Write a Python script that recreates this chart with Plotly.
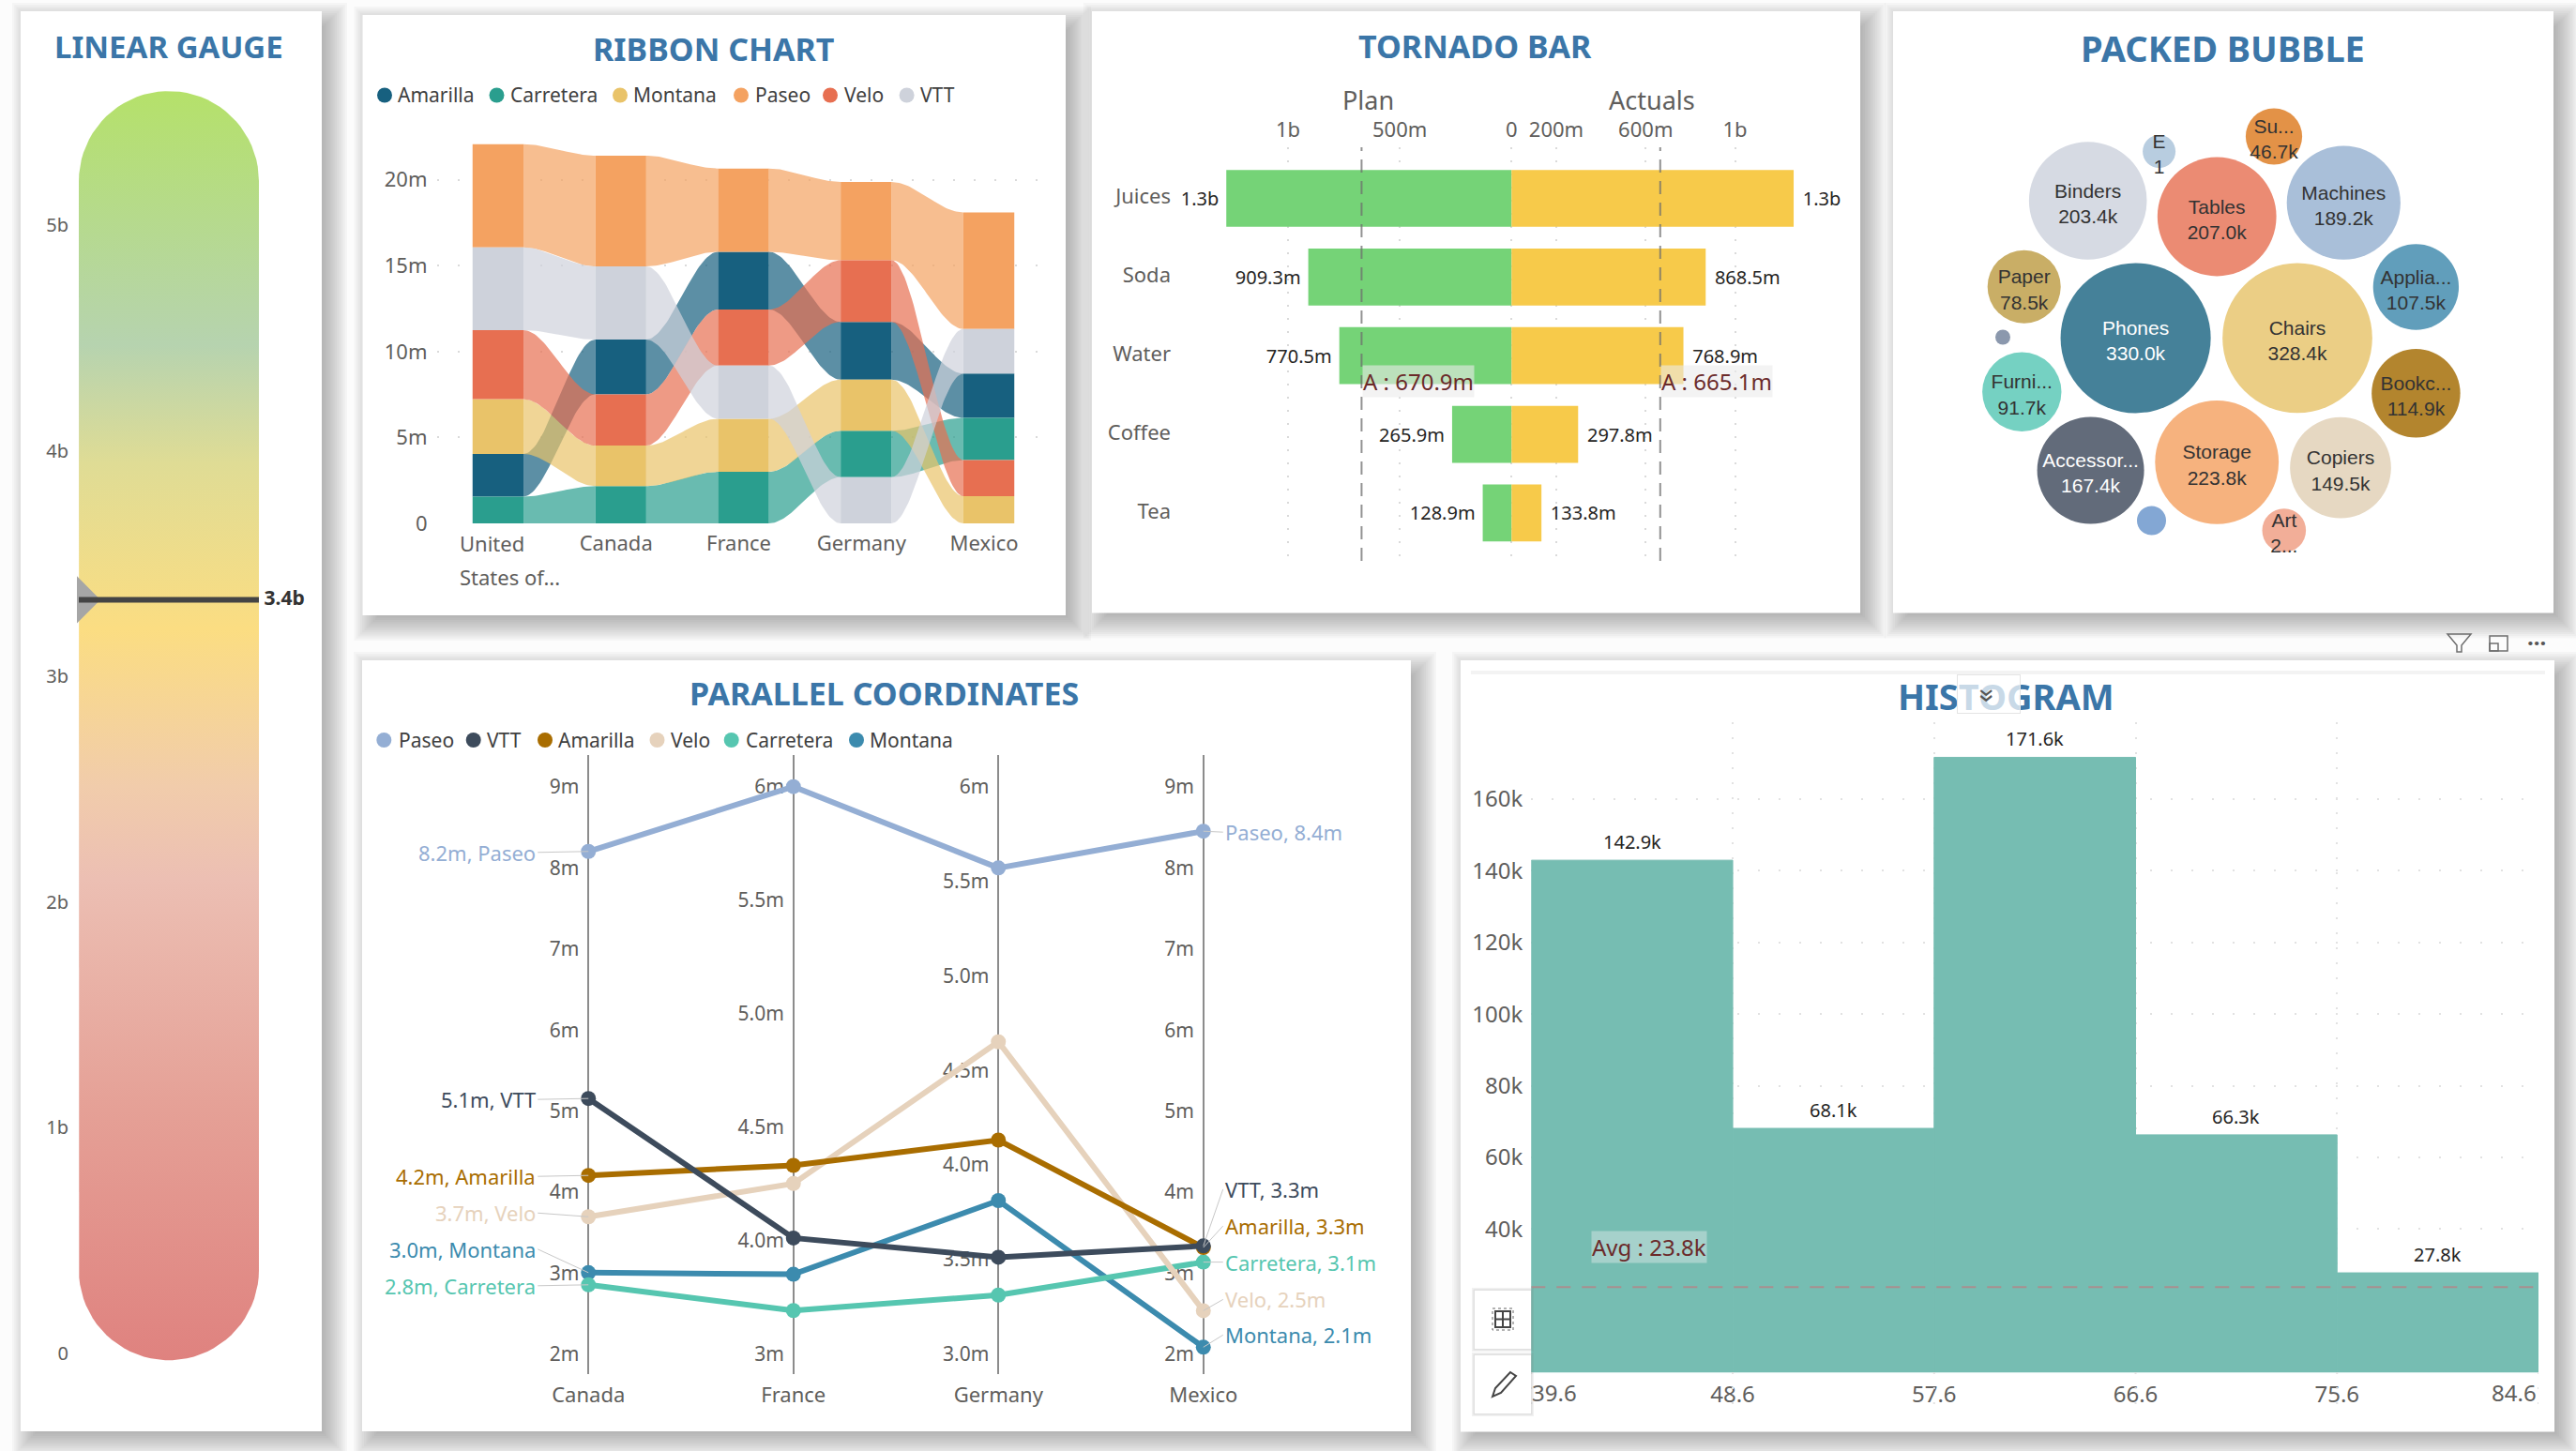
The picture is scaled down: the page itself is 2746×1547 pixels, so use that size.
import numpy as np
import plotly.graph_objects as go

W, H = 2746, 1547
FONT = "Noto Sans"
TITLE = "#3B76A8"
GREY = "#605E5C"
DARK = "#252423"

# ---------------- data ----------------
gauge_ticks = [0, 1, 2, 3, 4, 5]
gauge_tick_text = ["0", "1b", "2b", "3b", "4b", "5b"]
gauge_value = 3.34
gauge_label = "3.4b"

ribbon_countries = ["United States of...", "Canada", "France", "Germany", "Mexico"]
ribbon_series = ["Amarilla", "Carretera", "Montana", "Paseo", "Velo", "VTT"]
amarilla_sales = [2.48, 3.19, 3.36, 3.36, 2.58]
carretera_sales = [1.56, 2.17, 3.00, 2.70, 2.46]
montana_sales = [3.19, 2.36, 3.09, 2.98, 1.58]
paseo_sales = [6.00, 6.45, 4.85, 4.56, 6.78]
velo_sales = [4.02, 2.98, 3.26, 3.59, 2.10]
vtt_sales = [4.82, 4.26, 3.10, 2.69, 2.60]
ribbon_ticks = [0, 5, 10, 15, 20]
ribbon_tick_text = ["0", "5m", "10m", "15m", "20m"]

tornado_products = ["Juices", "Soda", "Water", "Coffee", "Tea"]
tornado_plan = [1276, 909.3, 770.5, 265.9, 128.9]
tornado_actual = [1262, 868.5, 768.9, 297.8, 133.8]
tornado_plan_text = ["1.3b", "909.3m", "770.5m", "265.9m", "128.9m"]
tornado_actual_text = ["1.3b", "868.5m", "768.9m", "297.8m", "133.8m"]
tornado_plan_avg = 670.9
tornado_actual_avg = 665.1
tornado_ticks = [-1000, -500, 0, 200, 600, 1000]
tornado_tick_text = ["1b", "500m", "0", "200m", "600m", "1b"]

bubble_names = ["Phones", "Chairs", "Storage", "Tables", "Binders", "Machines", "Accessories",
                "Copiers", "Bookcases", "Appliances", "Furnishings", "Paper", "Supplies",
                "Art", "Envelopes", "Labels", "Fasteners"]
bubble_values = [330.0, 328.4, 223.8, 207.0, 203.4, 189.2, 167.4, 149.5, 114.9, 107.5, 91.7,
                 78.5, 46.7, 28.0, 15.8, 12.4, 3.3]
bubble_text = ["Phones<br>330.0k", "Chairs<br>328.4k", "Storage<br>223.8k", "Tables<br>207.0k",
               "Binders<br>203.4k", "Machines<br>189.2k", "Accessor...<br>167.4k", "Copiers<br>149.5k",
               "Bookc...<br>114.9k", "Applia...<br>107.5k", "Furni...<br>91.7k", "Paper<br>78.5k",
               "Su...<br>46.7k", "Art<br>2...", "E<br>1", "", ""]
bubble_layout_x = [2276.6, 2449, 2363.2, 2363.2, 2225.7, 2498.3, 2228.6, 2495, 2575.4, 2575.4,
                   2155.3, 2157.7, 2424, 2434.8, 2301.6, 2293.5, 2135]
bubble_layout_y = [360.4, 360.4, 492.8, 231, 214, 216.2, 501.5, 498.7, 419.3, 306, 417.8, 305.7,
                   145.5, 565.5, 161.5, 555, 359.5]
bubble_colors = ["#458199", "#EBCE85", "#F6B27E", "#EB8B73", "#D6DAE3", "#A9BFD9", "#626B7A", "#E6D8C2",
                 "#B3852E", "#619EBB", "#75D1C2", "#C9AE66", "#E39247", "#F2AE98", "#B8CDE0", "#83A7D4",
                 "#8B98AD"]
bubble_text_colors = ["#FFFFFF", "#333333", "#333333", "#333333", "#333333", "#333333", "#FFFFFF"] + ["#333333"] * 10

par_countries = ["Canada", "France", "Germany", "Mexico"]
par_series = ["Paseo", "VTT", "Amarilla", "Velo", "Carretera", "Montana"]
par_paseo = [8.2, 6.0, 5.57, 8.45]
par_vtt = [5.15, 4.01, 3.51, 3.33]
par_amarilla = [4.2, 4.33, 4.13, 3.31]
par_velo = [3.69, 4.25, 4.65, 2.53]
par_carretera = [2.85, 3.69, 3.31, 3.13]
par_montana = [3.0, 3.85, 3.81, 2.08]
par_left_labels = ["8.2m, Paseo", "5.1m, VTT", "4.2m, Amarilla", "3.7m, Velo", "2.8m, Carretera", "3.0m, Montana"]
par_right_labels = ["Paseo, 8.4m", "VTT, 3.3m", "Amarilla, 3.3m", "Velo, 2.5m", "Carretera, 3.1m", "Montana, 2.1m"]
par_axis_low = [2, 3.5, 3, 2]
par_axis_high = [9, 6, 6, 9]
par_tick_vals = [[2, 3, 4, 5, 6, 7, 8, 9],
                 [3.5, 4, 4.5, 5, 5.5, 6],
                 [3, 3.5, 4, 4.5, 5, 5.5, 6],
                 [2, 3, 4, 5, 6, 7, 8, 9]]
par_tick_text = [["2m", "3m", "4m", "5m", "6m", "7m", "8m", "9m"],
                 ["3m", "4.0m", "4.5m", "5.0m", "5.5m", "6m"],
                 ["3.0m", "3.5m", "4.0m", "4.5m", "5.0m", "5.5m", "6m"],
                 ["2m", "3m", "4m", "5m", "6m", "7m", "8m", "9m"]]

hist_edges = [39.6, 48.6, 57.6, 66.6, 75.6, 84.6]
hist_values = [142.9, 68.1, 171.6, 66.3, 27.8]
hist_text = ["142.9k", "68.1k", "171.6k", "66.3k", "27.8k"]
hist_avg = 23.8
hist_ticks = [40, 60, 80, 100, 120, 140, 160]
hist_tick_text = ["40k", "60k", "80k", "100k", "120k", "140k", "160k"]

# ---------------- styles ----------------
ribbon_colors = dict(Amarilla="#17607F", Carretera="#2A9E8E", Montana="#E9C369",
                     Paseo="#F4A261", Velo="#E76F51", VTT="#CED2DB")
par_colors = dict(Paseo="#94AED4", VTT="#3D4B5C", Amarilla="#A96D00",
                  Velo="#E6D2BC", Carretera="#56C6B0", Montana="#3C8BAE")
panels = [(22, 12, 343, 1526), (386.5, 16, 1136, 656), (1164, 12, 1983, 653.5),
          (2018, 12, 2722, 653.5), (386, 704, 1504, 1526), (1557, 704, 2723, 1526.6)]


def fx(x):
    return x / W


def fy(y):
    return 1 - y / H


def rgba(hex_color, a):
    c = hex_color.lstrip("#")
    return f"rgba({int(c[:2],16)},{int(c[2:4],16)},{int(c[4:],16)},{a})"


fig = go.Figure()
shapes, notes = [], []


def note(text, x, y, size=22, color=GREY, anchor="center", bold=False, family=FONT, **kw):
    notes.append(dict(text=f"<b>{text}</b>" if bold else text, x=fx(x), y=fy(y), xref="paper", yref="paper",
                      showarrow=False, xanchor=anchor, yanchor="middle",
                      font=dict(family=family, size=size, color=color), **kw))


def rect(x0, y0, x1, y1, **kw):
    shapes.append(dict(type="rect", xref="paper", yref="paper", x0=fx(x0), x1=fx(x1), y0=fy(y0), y1=fy(y1), **kw))


def path(points, close=False, **kw):
    d = " ".join(("M" if i == 0 else "L") + f"{fx(x):.6f},{fy(y):.6f}" for i, (x, y) in enumerate(points))
    shapes.append(dict(type="path", xref="paper", yref="paper", path=d + (" Z" if close else ""), **kw))


# panels with soft shadows
for p in panels:
    for k in range(12):
        g = 18 - k * 2.2
        rect(p[0] + 9 - g, p[1] + 9 - g, p[2] + 9 + g, p[3] + 9 + g,
             fillcolor="rgba(90,90,90,0.042)", line=dict(width=0), layer="below")
for p in panels:
    rect(*p, fillcolor="#FFFFFF", line=dict(width=0), layer="below")

# titles
for t, x, y, sz in [("LINEAR GAUGE", 180, 50, 33), ("RIBBON CHART", 760, 52, 34), ("TORNADO BAR", 1572, 49, 34),
                    ("PACKED BUBBLE", 2369, 51, 38), ("PARALLEL COORDINATES", 943, 739, 34),
                    ("HISTOGRAM", 2138, 741.5, 38)]:
    note(t, x, y, size=sz, color=TITLE, bold=True)

axis_base = dict(showline=False, zeroline=False, ticks="", showgrid=False, automargin=False,
                 tickfont=dict(family=FONT, size=22, color=GREY))
layout_axes = {}


def axes(n, x_px, y_px, xa=None, ya=None):
    sx = "" if n == 1 else str(n)
    xd = dict(axis_base, domain=[fx(x_px[0]), fx(x_px[1])], anchor=f"y{sx}", showticklabels=False)
    yd = dict(axis_base, domain=[fy(y_px[1]), fy(y_px[0])], anchor=f"x{sx}", showticklabels=False)
    xd.update(xa or {})
    yd.update(ya or {})
    layout_axes[f"xaxis{sx}"] = xd
    layout_axes[f"yaxis{sx}"] = yd


# ---------------- linear gauge ----------------
G_ZERO, G_SCALE = 1443, 240.6
g_left, g_right, g_low, g_high = 84, 276, -0.03, 5.594
g_r = (g_right - g_left) / 2
g_ry = g_r / G_SCALE
a = np.linspace(0, np.pi, 40)
g_cx = (g_left + g_right) / 2
gx = np.r_[g_cx + g_r * np.cos(a), g_cx - g_r * np.cos(a)]
gy = np.r_[g_high - g_ry + g_ry * np.sin(a), g_low + g_ry - g_ry * np.sin(a)]
fig.add_trace(go.Scatter(x=gx, y=gy, mode="lines", fill="toself", line=dict(width=0), name="Gauge",
                         fillgradient=dict(type="vertical", colorscale=[
                             [0, "#DF827F"], [0.197, "#E5A096"], [0.379, "#ECBFB3"], [0.452, "#F1CCAB"],
                             [0.576, "#FBDD82"], [0.707, "#DFDC95"], [0.80, "#B6D3AF"], [1, "#B5E16A"]]),
                         xaxis="x", yaxis="y", hoverinfo="skip"))
fig.add_trace(go.Scatter(x=[82, 107, 82], y=[gauge_value + 0.104, gauge_value, gauge_value - 0.104], mode="lines",
                         fill="toself", fillcolor="#A6A6A6", line=dict(width=0), name="Target", xaxis="x", yaxis="y",
                         hoverinfo="skip"))
fig.add_trace(go.Scatter(x=[g_left, g_right], y=[gauge_value, gauge_value], mode="lines+text",
                         text=["", " " + f"<b>{gauge_label}</b>"], textposition="middle right",
                         textfont=dict(family=FONT, size=21, color="#333333"),
                         line=dict(color="#444444", width=6), name="Value", xaxis="x", yaxis="y", cliponaxis=False))
axes(1, (80, 343), (60, 1500),
     dict(range=[80, 343]),
     dict(range=[(G_ZERO - 1500) / G_SCALE, (G_ZERO - 60) / G_SCALE], showticklabels=True, tickvals=gauge_ticks,
          ticktext=gauge_tick_text, tickfont=dict(family=FONT, size=20, color=GREY), ticklabelstandoff=6))

# ---------------- ribbon chart ----------------
ribbon_values = dict(Amarilla=amarilla_sales, Carretera=carretera_sales, Montana=montana_sales,
                     Paseo=paseo_sales, Velo=velo_sales, VTT=vtt_sales)
n_c = len(ribbon_countries)
lows = {s: [0.0] * n_c for s in ribbon_series}
for c in range(n_c):
    level = 0.0
    for s in sorted(ribbon_series, key=lambda s: ribbon_values[s][c]):
        lows[s][c] = level
        level += ribbon_values[s][c]
half = 0.2075
t = np.linspace(0, 1, 40)
ease = 3 * t ** 2 - 2 * t ** 3
for s in ribbon_series:
    v, lo = ribbon_values[s], lows[s]
    for c in range(n_c - 1):
        x_a, x_b = c + half, c + 1 - half
        xs = x_a + (x_b - x_a) * t
        bot = lo[c] + (lo[c + 1] - lo[c]) * ease
        top = lo[c] + v[c] + (lo[c + 1] + v[c + 1] - lo[c] - v[c]) * ease
        fig.add_trace(go.Scatter(x=np.r_[xs, xs[::-1]], y=np.r_[bot, top[::-1]], mode="lines", fill="toself",
                                 fillcolor=rgba(ribbon_colors[s], 0.7), line=dict(width=0), name=s,
                                 xaxis="x2", yaxis="y2", hoverinfo="skip"))
for s in ribbon_series:
    fig.add_trace(go.Bar(x=list(range(n_c)), y=ribbon_values[s], base=lows[s], width=0.415, name=s,
                         marker=dict(color=ribbon_colors[s], line=dict(width=0)), xaxis="x2", yaxis="y2"))
axes(2, (465.5, 1119.5), (150, 558),
     dict(range=[-0.5, 4.5], showticklabels=True, tickvals=list(range(1, n_c)), ticktext=ribbon_countries[1:],
          ticklabelshift=-5, ticklabelstandoff=6),
     dict(range=[0, 22.28], showticklabels=True, tickvals=ribbon_ticks, ticktext=ribbon_tick_text, showgrid=True,
          gridcolor="#DADADA", griddash="2px,20px", gridwidth=2, ticklabelstandoff=9))
note("United", 488, 579, anchor="left")
note("States of...", 488, 615, anchor="left")
for s, dx, tx in zip(ribbon_series, [410, 529.5, 661, 790, 885, 966.6], [422.4, 542, 673, 803, 898, 979]):
    shapes.append(dict(type="circle", xref="paper", yref="paper", x0=fx(dx - 8), x1=fx(dx + 8), y0=fy(101.5 + 8),
                       y1=fy(101.5 - 8), fillcolor=ribbon_colors[s], line=dict(width=0)))
    note(s, tx, 101.5, anchor="left", size=21, color="#404040")

# ---------------- tornado ----------------
T_Z, T_S = 1611.3, 0.2383
t_left, t_right = 1255, 1950
prod_y = list(range(len(tornado_products)))
fig.add_trace(go.Bar(y=prod_y, x=[-v for v in tornado_plan], orientation="h", width=0.7245, name="Plan",
                     marker=dict(color="#75D377", line=dict(width=0)), text=[v + "\u2005" for v in tornado_plan_text],
                     textposition="outside", cliponaxis=False, textfont=dict(family=FONT, size=20, color=DARK),
                     xaxis="x3", yaxis="y3"))
fig.add_trace(go.Bar(y=prod_y, x=tornado_actual, orientation="h", width=0.7245, name="Actuals",
                     marker=dict(color="#F7CA4A", line=dict(width=0)), text=["\u2004" + v for v in tornado_actual_text],
                     textposition="outside", cliponaxis=False, textfont=dict(family=FONT, size=20, color=DARK),
                     xaxis="x3", yaxis="y3"))
for val, lab in [(-tornado_plan_avg, "Plan avg"), (tornado_actual_avg, "Actual avg")]:
    fig.add_trace(go.Scatter(x=[val, val], y=[4.61, -0.65], mode="lines", name=lab, xaxis="x3", yaxis="y3",
                             line=dict(color="rgba(110,110,110,0.75)", width=2, dash="14px,9px"), hoverinfo="skip"))
axes(3, (t_left, t_right), (157, 598),
     dict(range=[(t_left - T_Z) / T_S, (t_right - T_Z) / T_S], side="top", showticklabels=True, tickvals=tornado_ticks,
          ticktext=tornado_tick_text, showgrid=True, gridcolor="#DADADA", griddash="2px,12px", gridwidth=2,
          ticklabelstandoff=6),
     dict(range=[4.61, -0.65], showticklabels=True, tickvals=prod_y, ticktext=tornado_products,
          tickfont=dict(family=FONT, size=22, color=GREY), ticklabelstandoff=6, ticklabelshift=2))
note("Plan", 1459, 107, size=27)
note("Actuals", 1761, 107, size=27)
for txt, xp in [(f"A : {tornado_plan_avg}m", 1452), (f"A : {tornado_actual_avg}m", 1770)]:
    note(txt, xp, 406.5, size=24, color="#6B2A2A", anchor="left", bgcolor="rgba(235,235,235,0.6)", borderpad=0)

# ---------------- packed bubble ----------------
fig.add_trace(go.Scatter(x=bubble_layout_x, y=bubble_layout_y, mode="markers", customdata=bubble_names, name="Sales",
                         marker=dict(size=[8.81 * np.sqrt(v) for v in bubble_values], color=bubble_colors,
                                     sizemode="diameter", line=dict(width=0), opacity=1),
                         cliponaxis=False, xaxis="x4", yaxis="y4"))
fig.add_trace(go.Scatter(x=bubble_layout_x, y=[yy + 5 for yy in bubble_layout_y], mode="text", text=bubble_text,
                         name="Labels", textposition="middle center",
                         textfont=dict(family="Liberation Sans", size=21, color=bubble_text_colors),
                         cliponaxis=False, xaxis="x4", yaxis="y4", hoverinfo="skip"))
axes(4, (2018, 2722), (12, 653.5), dict(range=[2018, 2722]), dict(range=[653.5, 12]))

# ---------------- parallel coordinates ----------------
par_values = dict(Paseo=par_paseo, VTT=par_vtt, Amarilla=par_amarilla, Velo=par_velo,
                  Carretera=par_carretera, Montana=par_montana)


def par_norm(v, i):
    return 2 + 7 * (v - par_axis_low[i]) / (par_axis_high[i] - par_axis_low[i])


PAR_PX = 86.36
for i in range(4):
    fig.add_trace(go.Scatter(x=[i - 0.045] * len(par_tick_vals[i]),
                             y=[par_norm(v, i) - 2.5 / PAR_PX for v in par_tick_vals[i]],
                             mode="text", text=par_tick_text[i], textposition="middle left", name=par_countries[i],
                             textfont=dict(family=FONT, size=21, color=GREY), xaxis="x5", yaxis="y5", cliponaxis=False,
                             hoverinfo="skip"))
for s in reversed(par_series):
    fig.add_trace(go.Scatter(x=list(range(4)), y=[par_norm(v, i) for i, v in enumerate(par_values[s])],
                             mode="lines+markers", name=s, line=dict(color=par_colors[s], width=6),
                             marker=dict(color=par_colors[s], size=16), xaxis="x5", yaxis="y5", cliponaxis=False))
par_low, par_high = 2 - (1464.5 - 1443.2) / PAR_PX, 9 + (838.7 - 804.8) / PAR_PX
axes(5, (518, 1392), (804.8, 1464.5),
     dict(range=[-0.5, 3.5], showticklabels=True, tickvals=list(range(4)), ticktext=par_countries, showgrid=True,
          gridcolor="#8C8C8C", gridwidth=2, ticklabelstandoff=7),
     dict(range=[par_low, par_high]))
left_shift = [1, 1, 1, -4, 1, -25]
right_shift = [1, -60.5, -23, -12, 0, -13]
for k, s in enumerate(par_series):
    for idx, lab, ax, ay, anc in [(0, par_left_labels[k], -54, left_shift[k], "right"),
                                  (3, par_right_labels[k], 21, right_shift[k], "left")]:
        color = par_colors[s]
        notes.append(dict(x=idx, y=par_norm(par_values[s][idx], idx), xref="x5", yref="y5", text=lab, showarrow=True,
                          arrowhead=0, arrowwidth=1, arrowcolor="#C8C8C8", ax=ax, ay=ay, xanchor=anc, yanchor="middle",
                          standoff=0, startstandoff=0, font=dict(family=FONT, size=22, color=color)))
for s, dx, tx in zip(par_series, [409.3, 504.7, 581, 700.5, 779.7, 913], [422.5, 517, 593.4, 713, 793, 925]):
    shapes.append(dict(type="circle", xref="paper", yref="paper", x0=fx(dx - 8), x1=fx(dx + 8), y0=fy(789 + 8),
                       y1=fy(789 - 8), fillcolor=par_colors[s], line=dict(width=0)))
    note(s, tx, 789, anchor="left", size=21, color="#404040")

# ---------------- histogram ----------------
hist_centers = [(a_ + b_) / 2 for a_, b_ in zip(hist_edges[:-1], hist_edges[1:])]
hist_widths = [b_ - a_ for a_, b_ in zip(hist_edges[:-1], hist_edges[1:])]
fig.add_trace(go.Bar(x=hist_centers, y=hist_values, width=hist_widths, name="Sales",
                     marker=dict(color="#76BDB2", line=dict(color="#76BDB2", width=1)), xaxis="x6", yaxis="y6"))
fig.add_trace(go.Scatter(x=[hist_edges[0], hist_edges[-1]], y=[hist_avg, hist_avg], mode="lines", name="Avg",
                         line=dict(color="#A98E8E", width=2, dash="15px,12px"), xaxis="x6", yaxis="y6",
                         hoverinfo="skip"))
for cx_, val_, txt_ in zip(hist_centers, hist_values, hist_text):
    notes.append(dict(x=cx_, y=val_, xref="x6", yref="y6", text=txt_, showarrow=False, yanchor="bottom", yshift=4,
                      font=dict(family=FONT, size=20, color=DARK)))
axes(6, (1632.3, 2706), (770, 1463.3),
     dict(range=[hist_edges[0], hist_edges[-1]], showticklabels=True, tickvals=hist_edges,
          ticktext=[""] + [str(e) for e in hist_edges[1:-1]] + [""], showgrid=True, gridcolor="#E2E2E2",
          griddash="2px,14px", gridwidth=2, tickfont=dict(family=FONT, size=24, color=GREY), ticklabelstandoff=7),
     dict(range=[0, 693.3 / 3.822], showticklabels=True, tickvals=hist_ticks, ticktext=hist_tick_text, showgrid=True,
          gridcolor="#E2E2E2", griddash="2px,20px", gridwidth=2, tickfont=dict(family=FONT, size=24, color=GREY),
          ticklabelstandoff=8))
for e in hist_edges:
    shapes.append(dict(type="line", xref="x6", yref="paper", x0=e, x1=e, y0=fy(1463), y1=fy(1503),
                       line=dict(color="#E2E2E2", width=2, dash="2px,14px")))
note(f"{hist_edges[0]}", 1631, 1484, size=24, anchor="left")
note(f"{hist_edges[-1]}", 2706, 1484, size=24, anchor="right")
note(f"Avg : {hist_avg}k", 1696, 1329, size=24, color="#6B2A2A", anchor="left",
     bgcolor="rgba(240,240,240,0.4)", borderpad=0)

# chrome: top bar, visual header, side buttons
rect(1568, 715, 2713, 719, fillcolor="#F3F3F3", line=dict(width=0))
notes.append(dict(text=" ", x=fx(2119.5), y=fy(739.5), xref="paper", yref="paper", showarrow=False, width=66, height=40,
                  xanchor="center", yanchor="middle",
                  bgcolor="rgba(255,255,255,0.72)", bordercolor="#E4E4E4", borderwidth=1, borderpad=0))
notes.append(dict(text="\u00BB", x=fx(2121), y=fy(741), xref="paper", yref="paper", showarrow=False, textangle=90,
                  xanchor="center", yanchor="middle", font=dict(family=FONT, size=30, color="#555555")))
for y0, y1 in [(1376, 1438), (1445, 1507)]:
    for g, col in [(3, "rgba(120,120,120,0.10)"), (1.5, "rgba(120,120,120,0.14)")]:
        shapes.append(dict(type="rect", xref="paper", yref="paper", x0=fx(1572 - g), x1=fx(1632 + g), y0=fy(y0 - g),
                           y1=fy(y1 + g), fillcolor=col, line=dict(width=0)))
    rect(1572, y0, 1632, y1, fillcolor="#FFFFFF", line=dict(width=0))
rect(1591, 1395, 1613, 1418, fillcolor="rgba(0,0,0,0)", line=dict(color="#666666", width=1, dash="dot"))
rect(1594, 1398, 1610, 1415, fillcolor="rgba(0,0,0,0)", line=dict(color="#444444", width=2))
path([(1602, 1398), (1602, 1415)], line=dict(color="#444444", width=2))
path([(1594, 1406.5), (1610, 1406.5)], line=dict(color="#444444", width=2))
path([(1591, 1489), (1594, 1480), (1610, 1463), (1616, 1467), (1600, 1485)], close=True,
     fillcolor="rgba(0,0,0,0)", line=dict(color="#444444", width=2))
path([(2609, 676), (2634, 676), (2624, 688), (2624, 695), (2619, 695), (2619, 688)], close=True,
     fillcolor="rgba(0,0,0,0)", line=dict(color="#6E6E6E", width=1.5))
rect(2654, 678, 2673, 694, fillcolor="rgba(0,0,0,0)", line=dict(color="#6E6E6E", width=1.5))
rect(2654, 686, 2663, 694, fillcolor="rgba(0,0,0,0)", line=dict(color="#6E6E6E", width=1.5))
note("\u00B7\u00B7\u00B7", 2704, 684, size=24, color="#555555", bold=True)

fig.update_layout(width=W, height=H, margin=dict(l=0, r=0, t=0, b=0, pad=0), autosize=False,
                  paper_bgcolor="#FCFCFC", plot_bgcolor="rgba(0,0,0,0)", showlegend=False,
                  barmode="overlay", shapes=shapes, annotations=notes, font=dict(family=FONT),
                  **layout_axes)
fig.write_html("out.html", config={"displayModeBar": False},
               post_script="document.body.style.margin='0';document.documentElement.style.overflow='hidden';")
